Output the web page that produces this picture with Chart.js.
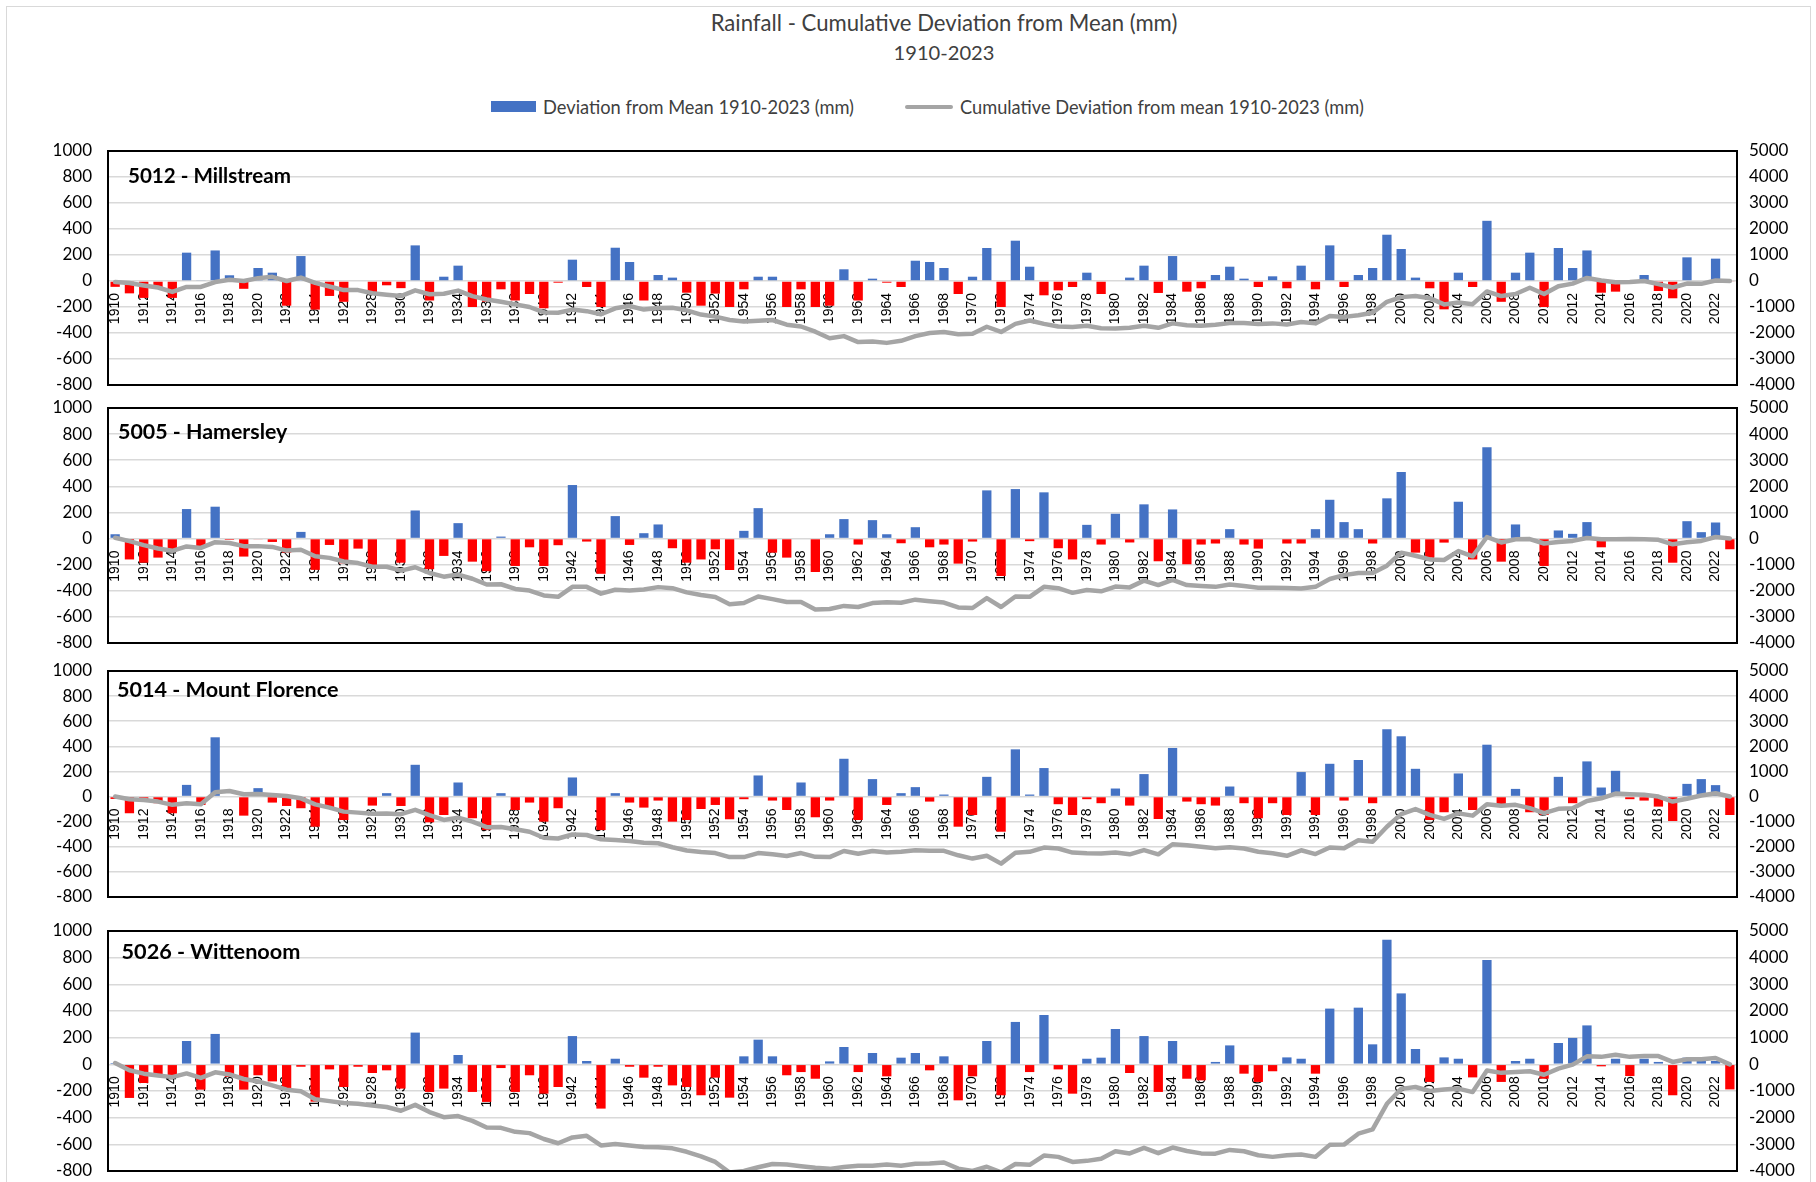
<!DOCTYPE html>
<html>
<head>
<meta charset="utf-8">
<script src="https://cdn.jsdelivr.net/npm/chart.js@4.4.0/dist/chart.umd.min.js"></script>
<style>
html,body{margin:0;padding:0;background:#fff;}
body{width:1816px;height:1182px;position:relative;overflow:hidden;font-family:Lato,'Liberation Sans',sans-serif;}
canvas.cv{position:absolute;left:0;}
.t{position:absolute;white-space:nowrap;line-height:1;}
.c{transform:translate(-50%,-50%);}
.l{transform:translate(0,-50%);}
#outer{position:absolute;left:6px;top:6px;width:1803px;height:1200px;border:1px solid #d9d9d9;}
</style>
</head>
<body>
<div id="outer"></div>
<div id="title1" class="t c" style="left:944px;top:23px;color:#404040;font-size:20px;">Rainfall - Cumulative Deviation from Mean (mm)</div>
<div id="title2" class="t c" style="left:944px;top:52px;color:#404040;font-size:20px;">1910-2023</div>
<div style="position:absolute;left:491px;top:101px;width:45px;height:11px;background:#4472C4;"></div>
<div id="leg1" class="t l" style="left:543px;top:106.5px;color:#404040;font-size:16px;">Deviation from Mean 1910-2023 (mm)</div>
<div style="position:absolute;left:905px;top:104.5px;width:48px;height:4px;background:#A5A5A5;border-radius:2px;"></div>
<div id="leg2" class="t l" style="left:960px;top:106.5px;color:#404040;font-size:16px;">Cumulative Deviation from mean 1910-2023 (mm)</div>
<div id="charts"></div>
<script>
// ---------- DATA ----------
const years = Array.from({length: 114}, (_, i) => String(1910 + i));
const yearTickLabels = years.map((y, i) => (i % 2 === 0 ? y : ''));
const leftTicks = [-800, -600, -400, -200, 0, 200, 400, 600, 800, 1000];
const rightTicks = [-4000, -3000, -2000, -1000, 0, 1000, 2000, 3000, 4000, 5000];

const seriesNames = ['Deviation from Mean 1910-2023 (mm)', 'Cumulative Deviation from mean 1910-2023 (mm)'];
const stationNames = ['5012 - Millstream', '5005 - Hamersley', '5014 - Mount Florence', '5026 - Wittenoom'];

const millstreamDev = [
 -45,-95,-130,-50,-130,218,5,235,44,-60,
 100,64,-190,192,-220,-115,-160,0,-100,-33,
 -55,274,-150,33,118,-200,-160,-64,-150,-100,
 -210,-13,164,-46,-200,256,146,-150,46,26,
 -90,-190,-97,-200,-64,33,33,-200,-64,-200,
 -190,90,-150,18,-13,-46,156,146,100,-100,
 33,254,-200,310,110,-110,-72,-46,64,-100,
 0,26,118,-92,192,-82,-56,46,110,18,
 -46,36,-56,118,-64,274,-46,46,100,356,
 246,26,-56,-218,64,-46,463,-160,64,218,
 -200,254,100,235,-90,-82,0,46,-77,-133,
 182,0,172,-5];
const millstreamCum = [
 -40,-80,-170,-250,-420,-230,-230,-40,50,0,
 110,160,0,130,-70,-210,-350,-350,-470,-530,
 -580,-360,-510,-490,-370,-580,-710,-800,-900,-1000,
 -1210,-1220,-1100,-1160,-1280,-1050,-960,-1100,-1040,-1030,
 -1130,-1290,-1370,-1500,-1560,-1530,-1500,-1680,-1750,-1950,
 -2200,-2120,-2350,-2330,-2380,-2300,-2120,-2000,-1960,-2050,
 -2030,-1760,-1960,-1650,-1520,-1650,-1750,-1770,-1720,-1820,
 -1830,-1800,-1720,-1800,-1630,-1700,-1720,-1680,-1620,-1620,
 -1650,-1630,-1670,-1580,-1630,-1350,-1380,-1320,-1220,-800,
 -620,-580,-660,-900,-830,-890,-400,-580,-500,-260,
 -500,-200,-100,120,20,-50,-40,0,-120,-250,
 -100,-110,20,0];

const hamersleyDev = [
 33,-160,-185,-146,-100,226,-70,244,-10,-138,
 -5,-26,-108,51,-240,-49,-190,-77,-210,0,
 -185,215,-235,-133,118,-177,-250,15,-210,-67,
 -210,-51,410,-23,-270,172,-49,41,108,-74,
 -185,-160,-82,-241,59,233,-108,-146,0,-256,
 33,149,-46,141,33,-36,87,-67,-46,-192,
 -23,369,-287,379,-20,354,-74,-160,105,-46,
 190,-30,262,-174,223,-197,-46,-38,72,-46,
 -77,0,-38,-38,72,297,126,72,-38,308,
 510,-108,-146,-31,282,-160,700,-177,108,0,
 -210,62,36,126,-67,0,0,0,-10,-185,
 133,49,123,-82];
const hamersleyCum = [
 30,-100,-250,-380,-470,-300,-360,-140,-170,-290,
 -290,-320,-460,-430,-680,-740,-880,-940,-1080,-1080,
 -1230,-1100,-1320,-1460,-1380,-1540,-1760,-1750,-1930,-1990,
 -2180,-2230,-1850,-1850,-2110,-1960,-1990,-1950,-1860,-1900,
 -2060,-2160,-2240,-2520,-2470,-2220,-2320,-2430,-2430,-2720,
 -2700,-2580,-2620,-2470,-2440,-2460,-2340,-2400,-2450,-2640,
 -2660,-2280,-2620,-2220,-2230,-1850,-1900,-2080,-1970,-2020,
 -1840,-1870,-1610,-1780,-1580,-1780,-1820,-1850,-1760,-1820,
 -1880,-1880,-1890,-1910,-1850,-1550,-1400,-1320,-1320,-1040,
 -540,-660,-800,-820,-480,-680,60,-150,-30,-20,
 -190,-130,-90,20,-30,-30,-20,-30,-50,-220,
 -140,-90,60,0];

const mountFlorenceDev = [
 -19,-133,-40,-53,-133,93,-67,472,0,-152,
 67,-48,-75,-93,-240,-93,-187,0,-72,27,
 -75,253,-205,-147,112,-173,-267,27,-107,-48,
 -200,-93,152,0,-267,27,-48,-88,-32,-200,
 -187,-99,-67,-181,-21,168,-32,-107,112,-165,
 -32,301,-187,139,-67,27,75,-40,16,-240,
 -147,157,-280,376,16,227,-61,-147,-21,-53,
 64,-72,179,-179,387,-40,-61,-72,80,-53,
 -173,-53,-147,195,-147,261,-32,291,-53,536,
 480,221,-187,-125,184,-107,413,-67,61,-125,
 -147,157,-53,280,72,205,-21,-32,-80,-195,
 101,139,91,-147];
const mountFlorenceCum = [
 0,-110,-140,-200,-330,-270,-310,170,220,90,
 100,60,20,-70,-310,-440,-600,-640,-680,-670,
 -700,-530,-740,-930,-840,-1000,-1220,-1210,-1300,-1400,
 -1640,-1670,-1510,-1530,-1700,-1730,-1770,-1840,-1860,-2020,
 -2150,-2210,-2250,-2410,-2410,-2250,-2300,-2370,-2250,-2400,
 -2410,-2170,-2280,-2170,-2230,-2200,-2140,-2160,-2160,-2340,
 -2470,-2360,-2670,-2240,-2200,-2030,-2070,-2230,-2260,-2270,
 -2230,-2300,-2130,-2300,-1900,-1940,-2000,-2060,-2020,-2070,
 -2200,-2260,-2360,-2140,-2290,-2030,-2060,-1740,-1800,-1200,
 -700,-500,-730,-890,-670,-760,-310,-370,-330,-460,
 -660,-490,-470,-180,-70,120,90,70,0,-200,
 -90,40,130,0];

const wittenoomDev = [
 10,-252,-140,-82,-95,175,-190,228,-95,-190,
 -82,-128,-182,-18,-280,-38,-170,-18,-65,-45,
 -182,238,-207,-182,70,-207,-282,-28,-207,-82,
 -220,-170,212,25,-332,42,-18,-100,-18,-158,
 -170,-232,-100,-250,60,185,60,-82,-58,-108,
 22,130,-58,85,-90,50,85,-45,60,-270,
 -90,175,-232,318,-58,370,-38,-220,42,50,
 265,-65,212,-207,175,-108,-120,18,142,-70,
 -132,-52,52,42,-70,418,0,425,150,935,
 532,115,-132,52,42,-98,782,-132,25,42,
 -108,160,198,292,-15,42,-88,42,18,-232,
 50,42,25,-188];
const wittenoomCum = [
 50,-220,-350,-420,-480,-340,-510,-300,-380,-550,
 -640,-790,-950,-1010,-1310,-1380,-1450,-1480,-1540,-1600,
 -1740,-1520,-1790,-1980,-1940,-2120,-2370,-2380,-2530,-2580,
 -2800,-2960,-2740,-2680,-3040,-2990,-3040,-3100,-3110,-3150,
 -3280,-3450,-3660,-4060,-4000,-3860,-3740,-3760,-3820,-3880,
 -3920,-3850,-3800,-3800,-3760,-3800,-3730,-3720,-3680,-3910,
 -4000,-3840,-4050,-3740,-3770,-3420,-3470,-3660,-3620,-3540,
 -3260,-3340,-3130,-3330,-3120,-3250,-3340,-3350,-3210,-3260,
 -3410,-3470,-3410,-3380,-3470,-3020,-3010,-2600,-2440,-1480,
 -920,-850,-1000,-940,-910,-1040,-230,-320,-290,-260,
 -390,-160,-10,300,280,360,280,310,310,90,
 190,190,240,0];

const devSeries = [millstreamDev, hamersleyDev, mountFlorenceDev, wittenoomDev];
const cumSeries = [millstreamCum, hamersleyCum, mountFlorenceCum, wittenoomCum];

// ---------- LAYOUT / STYLE ----------
const FONT = "Lato, 'Liberation Sans', sans-serif";
const YEAR_FONT = "'Liberation Sans', Arial, sans-serif";
const BLUE = '#4472C4', RED = '#FF0000', GREY = '#A5A5A5';
const PLOT_LEFT = 108, PLOT_RIGHT = 1737, W = 1816, PAD = 12;
const layouts = [
  {top: 151, h: 234, tx: 128, ty: 174.5, tw: 163},
  {top: 408, h: 235, tx: 118, ty: 432, tw: 169.5},
  {top: 671, h: 226, tx: 117, ty: 690, tw: 221.5},
  {top: 931, h: 240, tx: 121.5, ty: 951.5, tw: 179}
];

const framePlugin = {
  id: 'frame',
  afterDraw(chart) {
    const {ctx, chartArea: a} = chart;
    ctx.save();
    ctx.strokeStyle = '#000';
    ctx.lineWidth = 2;
    ctx.strokeRect(a.left, a.top, a.right - a.left, a.bottom - a.top);
    ctx.restore();
  }
};

function fitText(el, targetW) {
  const w = el.getBoundingClientRect().width;
  const fs = parseFloat(getComputedStyle(el).fontSize);
  el.style.fontSize = (fs * targetW / w).toFixed(2) + 'px';
}

const holder = document.getElementById('charts');
layouts.forEach((L, k) => {
  const cv = document.createElement('canvas');
  cv.className = 'cv';
  cv.width = W; cv.height = L.h + 2 * PAD;
  cv.style.top = (L.top - PAD) + 'px';
  cv.style.width = W + 'px'; cv.style.height = (L.h + 2 * PAD) + 'px';
  holder.appendChild(cv);

  const lbl = document.createElement('div');
  lbl.className = 't l';
  lbl.style.left = L.tx + 'px';
  lbl.style.top = L.ty + 'px';
  lbl.style.fontWeight = '700';
  lbl.style.fontSize = '18px';
  lbl.style.color = '#000';
  lbl.textContent = stationNames[k];
  document.body.appendChild(lbl);
  fitText(lbl, L.tw);

  new Chart(cv.getContext('2d'), {
    type: 'bar',
    data: {
      labels: years,
      datasets: [
        {type: 'line', label: seriesNames[1], data: cumSeries[k], yAxisID: 'y2',
         borderColor: GREY, borderWidth: 4.5, pointRadius: 0, tension: 0, order: 0,
         borderJoinStyle: 'round', borderCapStyle: 'round'},
        {type: 'bar', label: seriesNames[0], data: devSeries[k], yAxisID: 'y',
         backgroundColor: c => (c.raw < 0 ? RED : BLUE), barPercentage: 0.65,
         categoryPercentage: 1, order: 1}
      ]
    },
    options: {
      responsive: false, maintainAspectRatio: false, animation: false,
      layout: {padding: {top: PAD, bottom: PAD, left: 0, right: 0}},
      plugins: {legend: {display: false}, tooltip: {enabled: false}, title: {display: false}},
      scales: {
        x: {
          position: {y: 0}, z: 1,
          grid: {display: false, drawTicks: false}, border: {display: false},
          ticks: {autoSkip: false, maxRotation: 90, minRotation: 90, padding: 12,
                  color: '#000', font: {family: YEAR_FONT, size: 14},
                  callback: (v, i) => yearTickLabels[i]}
        },
        y: {
          position: 'left', min: leftTicks[0], max: leftTicks[leftTicks.length - 1],
          ticks: {stepSize: 200, autoSkip: false, padding: 16, color: '#000',
                  font: {family: FONT, size: 17}, callback: v => String(v)},
          grid: {color: '#d9d9d9', lineWidth: 1.5, drawTicks: false}, border: {display: false},
          afterFit: s => { s.width = PLOT_LEFT; s.paddingTop = 0; s.paddingBottom = 0; }
        },
        y2: {
          position: 'right', min: rightTicks[0], max: rightTicks[rightTicks.length - 1],
          ticks: {stepSize: 1000, autoSkip: false, padding: 12, color: '#000',
                  font: {family: FONT, size: 17}, callback: v => String(v)},
          grid: {display: false, drawTicks: false}, border: {display: false},
          afterFit: s => { s.width = W - PLOT_RIGHT; s.paddingTop = 0; s.paddingBottom = 0; }
        }
      }
    },
    plugins: [framePlugin]
  });
});

fitText(document.getElementById('title1'), 467);
fitText(document.getElementById('title2'), 101);
fitText(document.getElementById('leg1'), 311);
fitText(document.getElementById('leg2'), 404);
</script>
</body>
</html>
